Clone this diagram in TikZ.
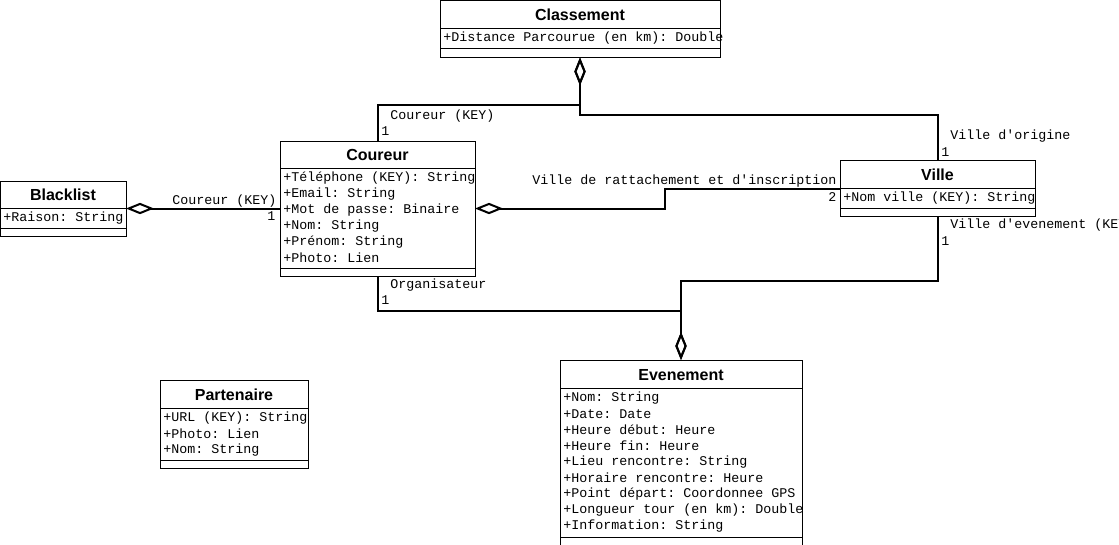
\documentclass[tikz,border=0pt]{standalone}
\usepackage{fontspec}
\setmainfont{Liberation Sans}
\setmonofont{Liberation Mono}
\usetikzlibrary{arrows.meta}
\tikzset{
  classbox/.style={draw, line width=0.75pt, anchor=north west, inner sep=0pt, outer sep=0pt},
  divider/.style={line width=0.75pt},
  title/.style={anchor=center, inner sep=0pt, font=\fontsize{12}{14}\selectfont\bfseries},
  attr/.style={anchor=west, inner sep=0pt, font=\ttfamily\fontsize{10}{12}\selectfont},
  conn/.style={line width=1.5pt},
  agg/.tip={Diamond[open, length=21pt, width=8.5pt]},
}
\begin{document}
\begin{tikzpicture}[x=0.75pt, y=-0.75pt]
\useasboundingbox (0,0) rectangle (1119,544);
\clip (0,0) rectangle (1119,544);
\fill[white] (0,0) rectangle (1119,544);

% ---------- Classement
\node[classbox, minimum width=210pt, minimum height=42.75pt] (classement) at (440,0.5) {};
\draw[divider] (440,28) -- (720,28);
\draw[divider] (440,48) -- (720,48);
\node[title] (classement-t) at (580,15) {Classement};
\node[attr] (classement-a1) at (443,38) {+Distance Parcourue (en km): Double};

% ---------- Coureur
\node[classbox, minimum width=146.25pt, minimum height=101.25pt] (coureur) at (280,141) {};
\draw[divider] (280,168) -- (475,168);
\draw[divider] (280,268) -- (475,268);
\node[title] (coureur-t) at (377.5,155) {Coureur};
\node[attr] (coureur-a1) at (283,178) {+Téléphone (KEY): String};
\node[attr] (coureur-a2) at (283,194) {+Email: String};
\node[attr] (coureur-a3) at (283,210) {+Mot de passe: Binaire};
\node[attr] (coureur-a4) at (283,226) {+Nom: String};
\node[attr] (coureur-a5) at (283,242) {+Prénom: String};
\node[attr] (coureur-a6) at (283,258) {+Photo: Lien};

% ---------- Blacklist
\node[classbox, minimum width=94.125pt, minimum height=41.25pt] (blacklist) at (0.5,181) {};
\draw[divider] (0.5,208) -- (126,208);
\draw[divider] (0.5,228) -- (126,228);
\node[title] (blacklist-t) at (63,194.5) {Blacklist};
\node[attr] (blacklist-a1) at (3,218) {+Raison: String};

% ---------- Ville
\node[classbox, minimum width=146.25pt, minimum height=42pt] (ville) at (840,160.5) {};
\draw[divider] (840,188) -- (1035,188);
\draw[divider] (840,208) -- (1035,208);
\node[title] (ville-t) at (937.5,175) {Ville};
\node[attr] (ville-a1) at (843,198) {+Nom ville (KEY): String};

% ---------- Evenement
\node[classbox, minimum width=181.5pt, minimum height=141pt] (evenement) at (560,360) {};
\draw[divider] (560,388) -- (802,388);
\draw[divider] (560,537) -- (802,537);
\node[title] (evenement-t) at (681,375) {Evenement};
\node[attr] (ev-a1) at (563,398) {+Nom: String};
\node[attr] (ev-a2) at (563,414) {+Date: Date};
\node[attr] (ev-a3) at (563,430) {+Heure début: Heure};
\node[attr] (ev-a4) at (563,446) {+Heure fin: Heure};
\node[attr] (ev-a5) at (563,462) {+Lieu rencontre: String};
\node[attr] (ev-a6) at (563,478) {+Horaire rencontre: Heure};
\node[attr] (ev-a7) at (563,494) {+Point départ: Coordonnee GPS};
\node[attr] (ev-a8) at (563,510) {+Longueur tour (en km): Double};
\node[attr] (ev-a9) at (563,526) {+Information: String};

% ---------- Partenaire
\node[classbox, minimum width=111pt, minimum height=66pt] (partenaire) at (160,380.5) {};
\draw[divider] (160,408) -- (308,408);
\draw[divider] (160,460.5) -- (308,460.5);
\node[title] (partenaire-t) at (234,395) {Partenaire};
\node[attr] (pa-a1) at (163,418) {+URL (KEY): String};
\node[attr] (pa-a2) at (163,434) {+Photo: Lien};
\node[attr] (pa-a3) at (163,450) {+Nom: String};

% ---------- Connectors
\draw[conn, -agg] (coureur.north) |- (classement.south |- 0,105) -- (classement.south);
\draw[conn, -agg] (ville.north) |- (classement.south |- 0,115) -- (classement.south);
\draw[conn, agg-] (blacklist.east) -- (coureur.west);
\draw[conn, agg-] (coureur.east) -| (665,198) |- (ville.west);
\draw[conn, -agg] (coureur.south) |- (evenement.north |- 0,311) -- (evenement.north);
\draw[conn, -agg] (ville.south) |- (evenement.north |- 0,281) -- (evenement.north);

% ---------- Connector labels
\node[attr] (l1) at (390,116) {Coureur (KEY)};
\node[attr] (m1) at (381,131) {1};
\node[attr] (l2) at (950,136) {Ville d'origine};
\node[attr] (m2) at (941,152) {1};
\node[attr] (l3) at (172,201) {Coureur (KEY)};
\node[attr] (m3) at (267,216) {1};
\node[attr] (l4) at (532,181) {Ville de rattachement et d'inscription};
\node[attr] (m4) at (828,197) {2};
\node[attr] (l5) at (950,225) {Ville d'evenement (KEY)};
\node[attr] (m5) at (941,241) {1};
\node[attr] (l6) at (390,285) {Organisateur};
\node[attr] (m6) at (381,300) {1};
\end{tikzpicture}
\end{document}
